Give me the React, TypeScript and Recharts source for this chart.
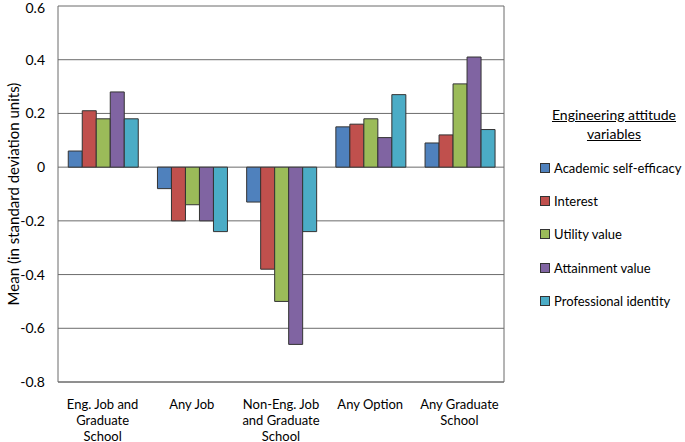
import React from 'react';
import {
  BarChart,
  Bar,
  XAxis,
  YAxis,
  CartesianGrid,
} from 'recharts';

const categories = [
  'Eng. Job and Graduate School',
  'Any Job',
  'Non-Eng. Job and Graduate School',
  'Any Option',
  'Any Graduate School',
];

// line breaks for the category labels
const categoryLines: string[][] = [
  ['Eng. Job and', 'Graduate', 'School'],
  ['Any Job'],
  ['Non-Eng. Job', 'and Graduate', 'School'],
  ['Any Option'],
  ['Any Graduate', 'School'],
];

const selfEfficacy = [0.06, -0.08, -0.13, 0.15, 0.09];
const interest = [0.21, -0.2, -0.38, 0.16, 0.12];
const utilityValue = [0.18, -0.14, -0.5, 0.18, 0.31];
const attainmentValue = [0.28, -0.2, -0.66, 0.11, 0.41];
const professionalIdentity = [0.18, -0.24, -0.24, 0.27, 0.14];

const yTicks = [-0.8, -0.6, -0.4, -0.2, 0, 0.2, 0.4, 0.6];

const seriesList = [
  { key: 'efficacy', name: 'Academic self-efficacy', color: '#4F81BD', values: selfEfficacy },
  { key: 'interest', name: 'Interest', color: '#C0504D', values: interest },
  { key: 'utility', name: 'Utility value', color: '#9BBB59', values: utilityValue },
  { key: 'attainment', name: 'Attainment value', color: '#8064A2', values: attainmentValue },
  { key: 'identity', name: 'Professional identity', color: '#4BACC6', values: professionalIdentity },
];

const data = categories.map((c, i) => {
  const row: Record<string, string | number> = { category: c, idx: i };
  seriesList.forEach((s) => {
    row[s.key] = s.values[i];
  });
  return row;
});

const FONT = 'Lato, "Open Sans", sans-serif';
const LINE = '#6b6b6b';

const CategoryTick = (props: any) => {
  const { x, y, payload } = props;
  const lines = categoryLines[payload.index] ?? [payload.value];
  return (
    <g transform={`translate(${x},${y})`}>
      {lines.map((l, i) => (
        <text
          key={i}
          x={0}
          y={19 + i * 16}
          textAnchor="middle"
          fill="#000"
          fontSize={13}
          fontFamily={FONT}
        >
          {l}
        </text>
      ))}
    </g>
  );
};

const LegendBox = () => (
  <>
    <div
      style={{
        position: 'absolute',
        left: 529,
        top: 105,
        width: 170,
        textAlign: 'center',
        fontFamily: FONT,
        color: '#000',
        fontSize: 14,
        textDecoration: 'underline',
        lineHeight: '19px',
      }}
    >
      Engineering attitude
      <br />
      variables
    </div>
    <div
      style={{
        position: 'absolute',
        left: 540,
        top: 151,
        fontFamily: FONT,
        color: '#000',
      }}
    >
      {seriesList.map((s) => (
        <div
          key={s.key}
          style={{ display: 'flex', alignItems: 'center', height: 33.3, fontSize: 13, whiteSpace: 'nowrap' }}
        >
          <span
            style={{
              display: 'inline-block',
              width: 8,
              height: 8,
              background: s.color,
              border: '1px solid #333',
              marginRight: 4,
            }}
          />
          {s.name}
        </div>
      ))}
    </div>
  </>
);

export default function App() {
  return (
    <div style={{ position: 'absolute', left: 0, top: 0, width: 685, height: 442, background: '#fff', overflow: 'hidden' }}>
      <BarChart
        width={685}
        height={442}
        data={data}
        margin={{ top: 6, right: 180, left: 0, bottom: 5 }}
        barGap={0}
        barCategoryGap="11.5%"
      >
        <CartesianGrid yAxisId="left" vertical={false} stroke={LINE} strokeWidth={1} />
        <XAxis
          dataKey="category"
          tick={<CategoryTick />}
          tickLine={false}
          axisLine={{ stroke: LINE, strokeWidth: 1 }}
          stroke={LINE}
          height={55}
          interval={0}
        />
        <YAxis
          yAxisId="left"
          domain={[-0.8, 0.6]}
          ticks={yTicks}
          tickFormatter={(v: number) => (v === 0 ? '0' : v.toFixed(1))}
          tick={{ fill: '#000', fontSize: 14, fontFamily: FONT }}
          tickLine={false}
          tickSize={0}
          tickMargin={13}
          axisLine={{ stroke: LINE, strokeWidth: 1 }}
          stroke={LINE}
          width={58}
          allowDataOverflow
        />
        <YAxis
          yAxisId="right"
          orientation="right"
          domain={[-0.8, 0.6]}
          ticks={yTicks}
          tick={false}
          tickLine={false}
          axisLine={{ stroke: LINE, strokeWidth: 1 }}
          stroke={LINE}
          width={1}
        />
        {seriesList.map((s) => (
          <Bar
            key={s.key}
            yAxisId="left"
            dataKey={s.key}
            name={s.name}
            fill={s.color}
            stroke="#333"
            strokeWidth={1}
            isAnimationActive={false}
          />
        ))}
        <text
          x={13}
          y={194}
          transform="rotate(-90 13 194)"
          textAnchor="middle"
          dominantBaseline="central"
          fontSize={15}
          fontFamily={FONT}
          fill="#000"
        >
          Mean (in standard deviation units)
        </text>
      </BarChart>
      <LegendBox />
    </div>
  );
}
